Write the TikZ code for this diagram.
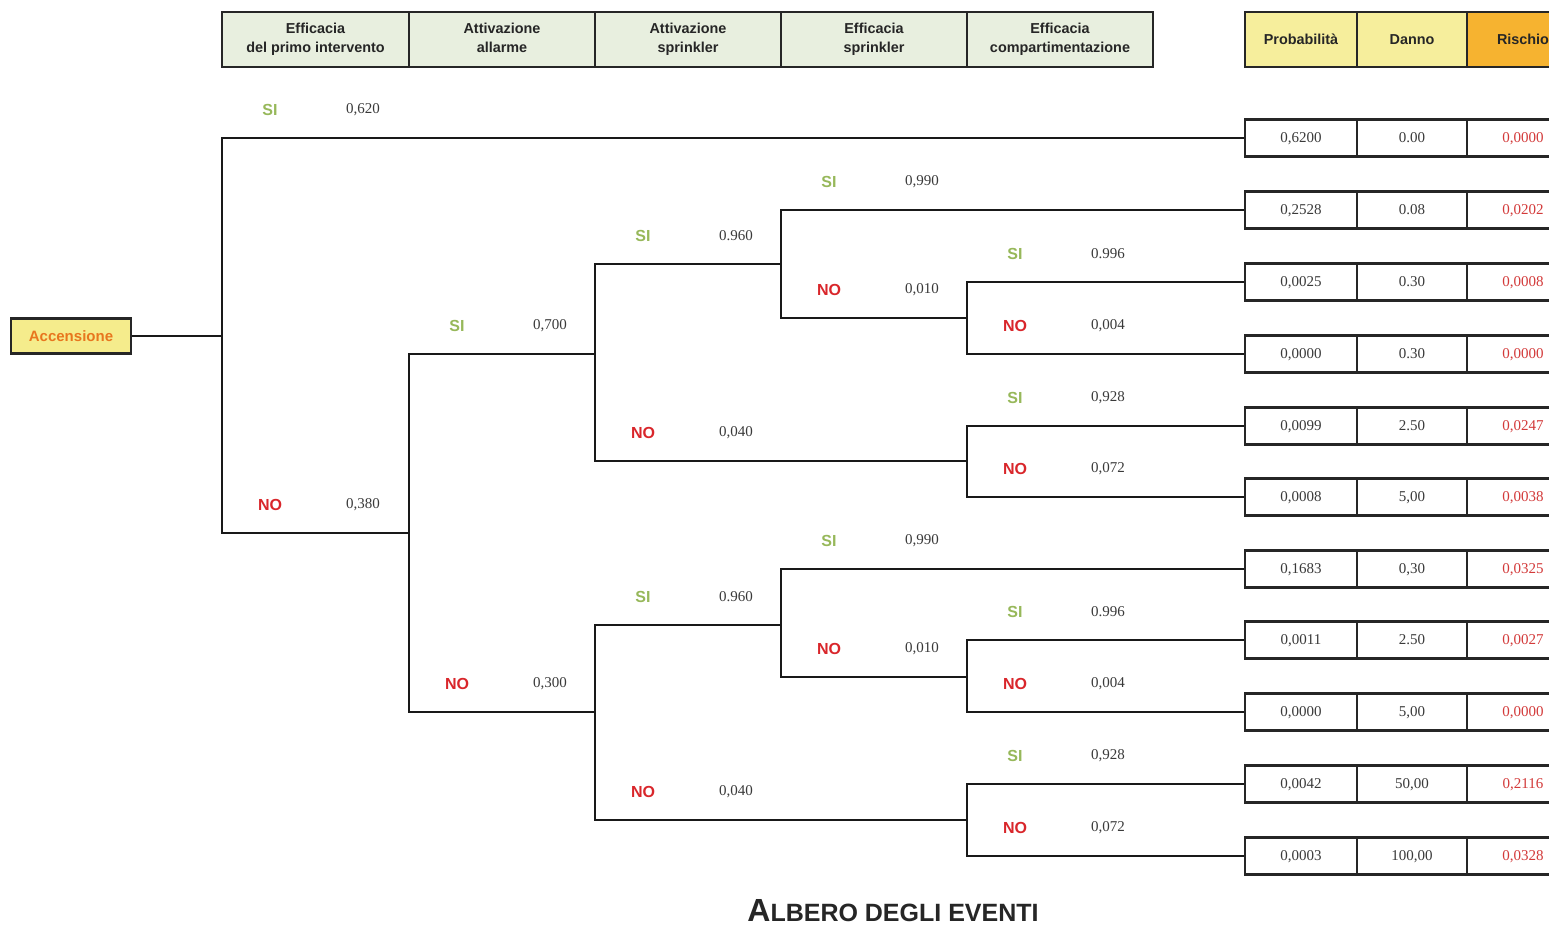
\documentclass[tikz,border=0pt]{standalone}
\usepackage{fontspec}
\setmainfont{Liberation Serif}
\newfontfamily\hsans{Liberation Sans}
\usetikzlibrary{calc}
\definecolor{hdrgreen}{HTML}{E8EFDF}
\definecolor{hdryellow}{HTML}{F6EE9C}
\definecolor{hdrorange}{HTML}{F6B330}
\definecolor{sigreen}{HTML}{97B85A}
\definecolor{nored}{HTML}{D9262B}
\definecolor{riskred}{HTML}{D33A3A}
\definecolor{accorange}{HTML}{E8761E}
\definecolor{accyellow}{HTML}{F5EC8C}
\definecolor{numgray}{HTML}{3A3A3A}
\definecolor{hdrtext}{HTML}{262626}
\tikzset{
  tree/.style={line width=1.1pt, draw=black!90},
  hdr/.style={draw=black!85, line width=1.4pt, fill=hdrgreen, minimum height=27.5pt, inner sep=0pt, align=center, text=hdrtext, font=\hsans\bfseries\fontsize{7.2}{9.5}\selectfont},
  cell/.style={draw=black!85, line width=1.2pt, fill=white, minimum height=18.5pt, inner sep=0pt, text depth=0pt, text=numgray, font=\fontsize{7.5}{9}\selectfont},
  si/.style={text=sigreen, font=\hsans\bfseries\fontsize{8}{9}\selectfont, inner sep=0pt},
  no/.style={text=nored, font=\hsans\bfseries\fontsize{8}{9}\selectfont, inner sep=0pt},
  val/.style={text=numgray, font=\fontsize{7.5}{9}\selectfont, inner sep=0pt},
}
\newcommand\brn[6]{%
  \draw[tree] (#1) |- (#2);
  \node[#3] (#6a) at ($(#1 |- #2)+(48,-28)$) {#4};
  \node[val] (#6b) at ($(#1 |- #2)+(141,-28)$) {#5};
}
\newcommand\trow[5]{%
  \node[cell, minimum width=56pt] (p#1) at (1301,#2) {#3};
  \node[cell, minimum width=55pt] (d#1) at (1412,#2) {#4};
  \node[cell, minimum width=56pt, text=riskred] (k#1) at (1523,#2) {#5};
}
\begin{document}
\begin{tikzpicture}[x=0.5pt,y=-0.5pt]
\useasboundingbox (0,0) rectangle (1549,926);
\clip (0,0) rectangle (1549,926);
\fill[white] (0,0) rectangle (1549,926);

% header
\node[hdr, minimum width=93.5pt] (h1) at (315.5,39.5) {Efficacia\\del primo intervento};
\node[hdr, minimum width=93pt] (h2) at (502,39.5) {Attivazione\\allarme\vphantom{p}};
\node[hdr, minimum width=93pt] (h3) at (688,39.5) {Attivazione\\sprinkler};
\node[hdr, minimum width=93pt] (h4) at (874,39.5) {Efficacia\\sprinkler};
\node[hdr, minimum width=93pt] (h5) at (1060,39.5) {Efficacia\\compartimentazione};
\node[hdr, fill=hdryellow, minimum width=56pt] (hp) at (1301,39.5) {Probabilità};
\node[hdr, fill=hdryellow, minimum width=55pt] (hd) at (1412,39.5) {Danno};
\node[hdr, fill=hdrorange, minimum width=56pt] (hr) at (1523,39.5) {Rischio};

% table rows
\trow{1}{138}{0,6200}{0.00}{0,0000}
\trow{2}{210}{0,2528}{0.08}{0,0202}
\trow{3}{282}{0,0025}{0.30}{0,0008}
\trow{4}{354}{0,0000}{0.30}{0,0000}
\trow{5}{426}{0,0099}{2.50}{0,0247}
\trow{6}{497}{0,0008}{5,00}{0,0038}
\trow{7}{569}{0,1683}{0,30}{0,0325}
\trow{8}{640}{0,0011}{2.50}{0,0027}
\trow{9}{712}{0,0000}{5,00}{0,0000}
\trow{10}{784}{0,0042}{50,00}{0,2116}
\trow{11}{856}{0,0003}{100,00}{0,0328}

% start node
\node[draw=black!85, line width=1.3pt, fill=accyellow, minimum width=60pt, minimum height=17.5pt, inner sep=0pt, text=accorange, font=\hsans\bfseries\fontsize{7.5}{9}\selectfont] (acc) at (71,336) {Accensione};

% junctions
\coordinate (rt) at (222,336);
\coordinate (n1) at (409,533);
\coordinate (n2) at (595,354);
\coordinate (n3) at (781,264);
\coordinate (n4) at (967,318);
\coordinate (n5) at (967,461);
\coordinate (n6) at (595,712);
\coordinate (n7) at (781,625);
\coordinate (n8) at (967,677);
\coordinate (n9) at (967,820);

\draw[tree] (acc.east) -- (rt);

\brn{rt}{p1.west}{si}{SI}{0,620}{b1}
\brn{rt}{n1}{no}{NO}{0,380}{b2}
\brn{n1}{n2}{si}{SI}{0,700}{b3}
\brn{n1}{n6}{no}{NO}{0,300}{b4}
\brn{n2}{n3}{si}{SI}{0.960}{b5}
\brn{n2}{n5}{no}{NO}{0,040}{b6}
\brn{n3}{p2.west}{si}{SI}{0,990}{b7}
\brn{n3}{n4}{no}{NO}{0,010}{b8}
\brn{n4}{p3.west}{si}{SI}{0.996}{b9}
\brn{n4}{p4.west}{no}{NO}{0,004}{b10}
\brn{n5}{p5.west}{si}{SI}{0,928}{b11}
\brn{n5}{p6.west}{no}{NO}{0,072}{b12}
\brn{n6}{n7}{si}{SI}{0.960}{b13}
\brn{n6}{n9}{no}{NO}{0,040}{b14}
\brn{n7}{p7.west}{si}{SI}{0,990}{b15}
\brn{n7}{n8}{no}{NO}{0,010}{b16}
\brn{n8}{p8.west}{si}{SI}{0.996}{b17}
\brn{n8}{p9.west}{no}{NO}{0,004}{b18}
\brn{n9}{p10.west}{si}{SI}{0,928}{b19}
\brn{n9}{p11.west}{no}{NO}{0,072}{b20}

% title
\node[text=black!85, font=\hsans\bfseries, inner sep=0pt] (title) at (893,911) {{\fontsize{16}{17}\selectfont A}{\fontsize{12.5}{14}\selectfont LBERO DEGLI EVENTI}};
\end{tikzpicture}
\end{document}
